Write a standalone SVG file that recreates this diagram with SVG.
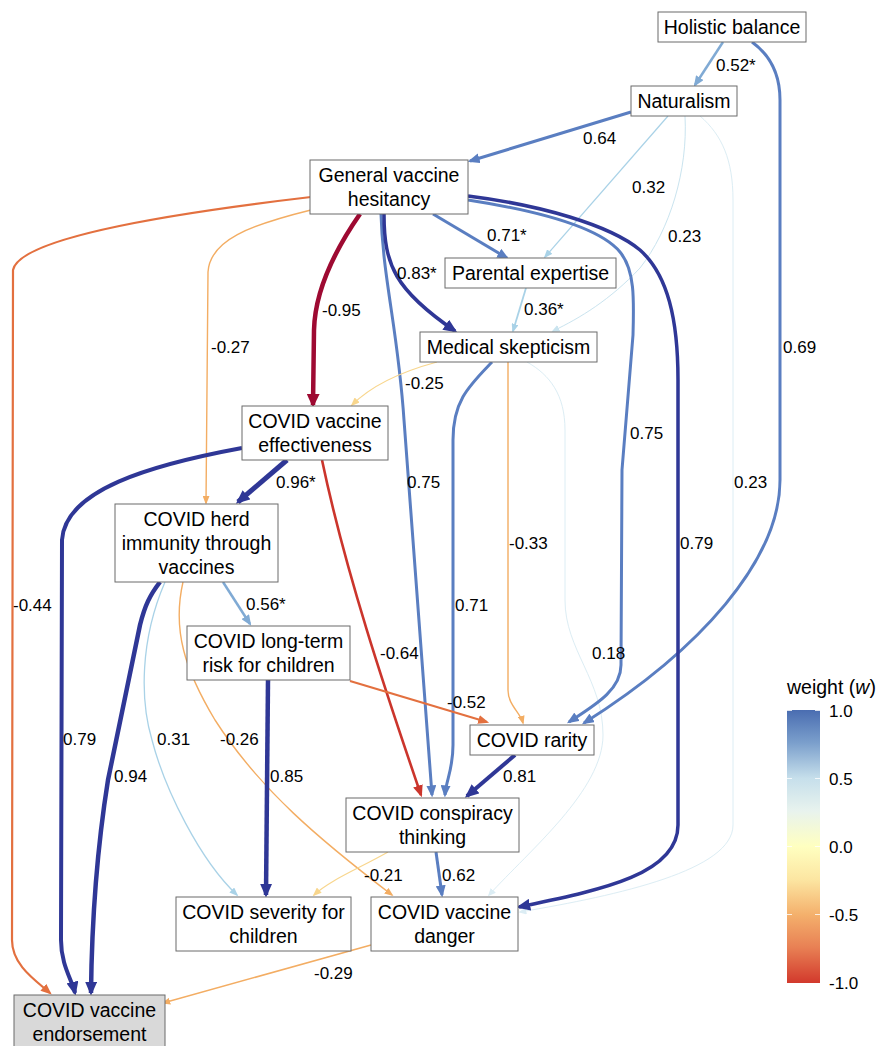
<svg xmlns="http://www.w3.org/2000/svg" width="883" height="1046" viewBox="0 0 883 1046">
<style>
.node rect{fill:#ffffff;stroke:#6b6b6b;stroke-width:1}
.node text{font-family:"Liberation Sans",Arial,sans-serif;font-size:19.5px;fill:#000;text-anchor:middle}
.e{fill:none}
.lbl{font-family:"Liberation Sans",Arial,sans-serif;font-size:17px;fill:#000}
.leg{font-family:"Liberation Sans",Arial,sans-serif;font-size:17px;fill:#000}
.navy{stroke:#2f3796}
.blue{stroke:#5a7ec1;stroke-width:3}
.steel{stroke:#80aad4;stroke-width:2.5}
.lblue{stroke:#a9d2e7}
.pale{stroke:#cae4ef;stroke-width:1}
.paler{stroke:#dcedf4;stroke-width:1}
.dred{stroke:#9e0a32;stroke-width:4.5}
.red{stroke:#cb352c;stroke-width:2.6}
.ored{stroke:#e3703f;stroke-width:2.2}
.orange{stroke:#f3ad63;stroke-width:1.4}
.yellow{stroke:#f8d68d;stroke-width:1.2}
</style>
<defs>
<marker id="a-navy" viewBox="0 0 10 10" refX="8" refY="5" markerUnits="userSpaceOnUse" markerWidth="14" markerHeight="12" orient="auto" preserveAspectRatio="none"><path d="M0,0 L10,5 L0,10 z" fill="#2f3796"/></marker>
<marker id="a-blue" viewBox="0 0 10 10" refX="8" refY="5" markerUnits="userSpaceOnUse" markerWidth="12" markerHeight="10" orient="auto" preserveAspectRatio="none"><path d="M0,0 L10,5 L0,10 z" fill="#5a7ec1"/></marker>
<marker id="a-steel" viewBox="0 0 10 10" refX="8" refY="5" markerUnits="userSpaceOnUse" markerWidth="11" markerHeight="9" orient="auto" preserveAspectRatio="none"><path d="M0,0 L10,5 L0,10 z" fill="#80aad4"/></marker>
<marker id="a-lblue" viewBox="0 0 10 10" refX="8" refY="5" markerUnits="userSpaceOnUse" markerWidth="9" markerHeight="7" orient="auto" preserveAspectRatio="none"><path d="M0,0 L10,5 L0,10 z" fill="#a9d2e7"/></marker>
<marker id="a-pale" viewBox="0 0 10 10" refX="8" refY="5" markerUnits="userSpaceOnUse" markerWidth="8" markerHeight="7" orient="auto" preserveAspectRatio="none"><path d="M0,0 L10,5 L0,10 z" fill="#cae4ef"/></marker>
<marker id="a-paler" viewBox="0 0 10 10" refX="8" refY="5" markerUnits="userSpaceOnUse" markerWidth="8" markerHeight="7" orient="auto" preserveAspectRatio="none"><path d="M0,0 L10,5 L0,10 z" fill="#dcedf4"/></marker>
<marker id="a-dred" viewBox="0 0 10 10" refX="8" refY="5" markerUnits="userSpaceOnUse" markerWidth="14" markerHeight="13" orient="auto" preserveAspectRatio="none"><path d="M0,0 L10,5 L0,10 z" fill="#9e0a32"/></marker>
<marker id="a-red" viewBox="0 0 10 10" refX="8" refY="5" markerUnits="userSpaceOnUse" markerWidth="12" markerHeight="10" orient="auto" preserveAspectRatio="none"><path d="M0,0 L10,5 L0,10 z" fill="#cb352c"/></marker>
<marker id="a-ored" viewBox="0 0 10 10" refX="8" refY="5" markerUnits="userSpaceOnUse" markerWidth="11" markerHeight="9" orient="auto" preserveAspectRatio="none"><path d="M0,0 L10,5 L0,10 z" fill="#e3703f"/></marker>
<marker id="a-orange" viewBox="0 0 10 10" refX="8" refY="5" markerUnits="userSpaceOnUse" markerWidth="9" markerHeight="7" orient="auto" preserveAspectRatio="none"><path d="M0,0 L10,5 L0,10 z" fill="#f3ad63"/></marker>
<marker id="a-yellow" viewBox="0 0 10 10" refX="8" refY="5" markerUnits="userSpaceOnUse" markerWidth="9" markerHeight="7" orient="auto" preserveAspectRatio="none"><path d="M0,0 L10,5 L0,10 z" fill="#f8d68d"/></marker>
<linearGradient id="wgrad" x1="0" y1="0" x2="0" y2="1">
<stop offset="0" stop-color="#4a6db1"/>
<stop offset="0.12" stop-color="#7b9fcc"/>
<stop offset="0.25" stop-color="#c6dfeb"/>
<stop offset="0.37" stop-color="#e8f3ee"/>
<stop offset="0.5" stop-color="#ffffc0"/>
<stop offset="0.62" stop-color="#fce6a2"/>
<stop offset="0.75" stop-color="#f4b06c"/>
<stop offset="0.87" stop-color="#e88054"/>
<stop offset="1" stop-color="#d2392c"/>
</linearGradient>
</defs>
<rect width="883" height="1046" fill="#ffffff"/>
<g id="connectors">
<path class="e paler" d="M700,116 C722,135 733,160 733,200 L733,825 C733,870 620,895 520,912" marker-end="url(#a-paler)"/>
<path class="e paler" d="M527,362 C550,375 565,395 565,430 L565,600 C565,650 603,680 603,735 C603,790 530,850 489,895" marker-end="url(#a-paler)"/>
<path class="e pale" d="M685,116 C688,170 670,230 640,268 C610,300 580,318 553,331" marker-end="url(#a-pale)"/>
<path class="e lblue" style="stroke-width:1.2" d="M668,116 L545,257" marker-end="url(#a-lblue)"/>
<path class="e steel" d="M723,42 L695,85" marker-end="url(#a-steel)"/>
<path class="e blue" d="M752,42 C770,55 780,75 780,100 L780,480 C780,560 700,650 584,723" marker-end="url(#a-blue)"/>
<path class="e blue" d="M631,112 L470,161" marker-end="url(#a-blue)"/>
<path class="e ored" d="M311,197 C200,210 20,235 13,270 L12,940 C12,965 35,980 50,993" marker-end="url(#a-ored)"/>
<path class="e orange" d="M311,210 C250,225 210,240 208,272 L206,503" marker-end="url(#a-orange)"/>
<path class="e dred" d="M360,214 C335,250 315,290 314,330 L313,405" marker-end="url(#a-dred)"/>
<path class="e blue" d="M381,214 C383,280 398,330 404,420 L432,795" marker-end="url(#a-blue)"/>
<path class="e navy" style="stroke-width:3.5" d="M384,214 C384,265 395,290 455,331" marker-end="url(#a-navy)"/>
<path class="e blue" d="M433,214 L507,258" marker-end="url(#a-blue)"/>
<path class="e blue" d="M468,200 C545,212 600,228 620,252 C635,270 634,300 633,335 L622,470 L621,665 C621,690 595,705 569,722" marker-end="url(#a-blue)"/>
<path class="e navy" style="stroke-width:3.5" d="M468,196 C540,205 610,225 640,250 C668,275 678,320 678,380 L678,825 C678,875 600,890 519,907" marker-end="url(#a-navy)"/>
<path class="e lblue" style="stroke-width:1.8" d="M526,288 L513,331" marker-end="url(#a-lblue)"/>
<path class="e yellow" d="M437,362 C400,372 372,385 352,405" marker-end="url(#a-yellow)"/>
<path class="e blue" d="M492,362 C470,385 453,400 453,440 L453,745 C453,770 446,780 445,795" marker-end="url(#a-blue)"/>
<path class="e orange" d="M508,362 L508,690 C508,705 520,712 523,723" marker-end="url(#a-orange)"/>
<path class="e navy" style="stroke-width:4" d="M242,448 C150,465 65,490 62,540 L61,940 C61,965 72,980 75,993" marker-end="url(#a-navy)"/>
<path class="e navy" style="stroke-width:5" d="M287,460 L238,502" marker-end="url(#a-navy)"/>
<path class="e red" d="M322,460 C345,570 385,690 421,795" marker-end="url(#a-red)"/>
<path class="e navy" style="stroke-width:4.5" d="M160,582 C150,595 145,605 140,625 L108,780 C100,830 92,900 91,993" marker-end="url(#a-navy)"/>
<path class="e lblue" style="stroke-width:1.3" d="M165,582 C140,640 140,700 152,740 C165,790 200,860 237,895" marker-end="url(#a-lblue)"/>
<path class="e orange" d="M183,582 C172,630 185,670 215,720 C260,790 320,840 392,895" marker-end="url(#a-orange)"/>
<path class="e steel" d="M223,582 L250,624" marker-end="url(#a-steel)"/>
<path class="e navy" style="stroke-width:4.5" d="M268,680 L266,895" marker-end="url(#a-navy)"/>
<path class="e ored" d="M350,681 L487,722" marker-end="url(#a-ored)"/>
<path class="e navy" style="stroke-width:4" d="M515,755 L467,796" marker-end="url(#a-navy)"/>
<path class="e blue" d="M436,852 L442,895" marker-end="url(#a-blue)"/>
<path class="e yellow" d="M388,852 C360,868 330,880 314,895" marker-end="url(#a-yellow)"/>
<path class="e orange" style="stroke-width:1.5" d="M371,945 C300,965 230,985 163,1003" marker-end="url(#a-orange)"/>
</g>
<g id="n-holistic" class="node"><rect x="658" y="12" width="148" height="30"/><text x="732" y="34">Holistic balance</text></g>
<g id="n-naturalism" class="node"><rect x="631" y="86" width="106" height="30"/><text x="684" y="108">Naturalism</text></g>
<g id="n-gvh" class="node"><rect x="310" y="160" width="158" height="54"/><text x="389" y="182">General vaccine</text><text x="389" y="206">hesitancy</text></g>
<g id="n-parental" class="node"><rect x="445" y="258" width="171" height="30"/><text x="530.5" y="280">Parental expertise</text></g>
<g id="n-medskep" class="node"><rect x="420" y="332" width="177" height="30"/><text x="508.5" y="354">Medical skepticism</text></g>
<g id="n-effectiveness" class="node"><rect x="242" y="406" width="146" height="54"/><text x="315" y="428">COVID vaccine</text><text x="315" y="452">effectiveness</text></g>
<g id="n-herd" class="node"><rect x="115" y="504" width="163" height="78"/><text x="196.5" y="526">COVID herd</text><text x="196.5" y="550">immunity through</text><text x="196.5" y="574">vaccines</text></g>
<g id="n-longterm" class="node"><rect x="187" y="626" width="163" height="54"/><text x="268.5" y="648">COVID long-term</text><text x="268.5" y="672">risk for children</text></g>
<g id="n-rarity" class="node"><rect x="470" y="725" width="124" height="30"/><text x="532" y="747">COVID rarity</text></g>
<g id="n-conspiracy" class="node"><rect x="346" y="798" width="173" height="54"/><text x="432.5" y="820">COVID conspiracy</text><text x="432.5" y="844">thinking</text></g>
<g id="n-severity" class="node"><rect x="176" y="897" width="175" height="54"/><text x="263.5" y="919">COVID severity for</text><text x="263.5" y="943">children</text></g>
<g id="n-danger" class="node"><rect x="371" y="897" width="147" height="54"/><text x="444.5" y="919">COVID vaccine</text><text x="444.5" y="943">danger</text></g>
<g id="n-endorsement" class="node"><rect x="14" y="995" width="151" height="56" style="fill:#d9d9d9"/><text x="89.5" y="1017">COVID vaccine</text><text x="89.5" y="1041">endorsement</text></g>
<g id="edge-labels" class="lbl">
<text x="716" y="71">0.52*</text>
<text x="583" y="144">0.64</text>
<text x="632" y="193">0.32</text>
<text x="487" y="241">0.71*</text>
<text x="668" y="242">0.23</text>
<text x="397" y="279">0.83*</text>
<text x="322" y="316">-0.95</text>
<text x="524" y="315">0.36*</text>
<text x="211" y="353">-0.27</text>
<text x="783" y="353">0.69</text>
<text x="405" y="389">-0.25</text>
<text x="630" y="439">0.75</text>
<text x="276" y="488">0.96*</text>
<text x="407" y="488">0.75</text>
<text x="734" y="488">0.23</text>
<text x="509" y="549">-0.33</text>
<text x="680" y="549">0.79</text>
<text x="13" y="611">-0.44</text>
<text x="246" y="610">0.56*</text>
<text x="455" y="611">0.71</text>
<text x="380" y="659">-0.64</text>
<text x="592" y="659">0.18</text>
<text x="447" y="708">-0.52</text>
<text x="63" y="745">0.79</text>
<text x="157" y="745">0.31</text>
<text x="220" y="745">-0.26</text>
<text x="114" y="782">0.94</text>
<text x="270" y="782">0.85</text>
<text x="503" y="782">0.81</text>
<text x="364" y="881">-0.21</text>
<text x="442" y="881">0.62</text>
<text x="314" y="979">-0.29</text>
</g>
<g id="legend">
<text x="787" y="694" class="leg" style="font-size:19.5px">weight (<tspan font-style="italic">w</tspan>)</text>
<rect x="787" y="710" width="33" height="273" fill="url(#wgrad)"/>
<g stroke="#ffffff" stroke-width="1" opacity="0.8">
<line x1="787" y1="710.5" x2="792" y2="710.5"/><line x1="815" y1="710.5" x2="820" y2="710.5"/>
<line x1="787" y1="778.5" x2="792" y2="778.5"/><line x1="815" y1="778.5" x2="820" y2="778.5"/>
<line x1="787" y1="846.5" x2="792" y2="846.5"/><line x1="815" y1="846.5" x2="820" y2="846.5"/>
<line x1="787" y1="914.5" x2="792" y2="914.5"/><line x1="815" y1="914.5" x2="820" y2="914.5"/>
</g>
<text x="829" y="717" class="leg">1.0</text>
<text x="829" y="785" class="leg">0.5</text>
<text x="829" y="853" class="leg">0.0</text>
<text x="829" y="921" class="leg">-0.5</text>
<text x="829" y="989" class="leg">-1.0</text>
</g>
</svg>
